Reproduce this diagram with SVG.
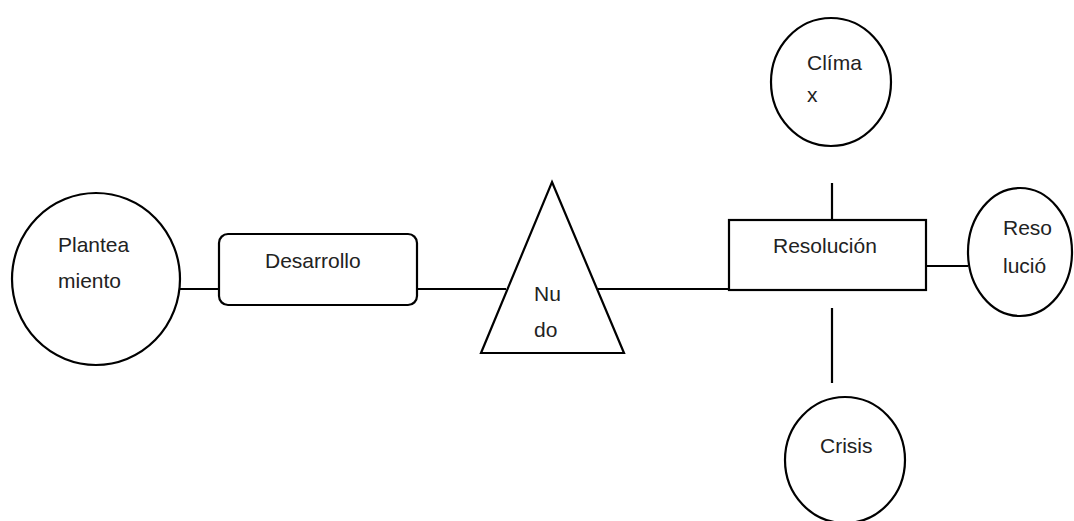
<svg xmlns="http://www.w3.org/2000/svg" width="1074" height="521" viewBox="0 0 1074 521">
<style>
.s{fill:#fff;stroke:#000;stroke-width:2.2}
.c line{stroke:#000;stroke-width:2.2}
text{font-family:"Liberation Sans",Arial,sans-serif;font-size:21px;fill:#222}
</style>
<rect width="1074" height="521" fill="#fff"/>
<g class="c" id="connectors">
<line x1="180" y1="289" x2="220" y2="289"/>
<line x1="417" y1="289" x2="506" y2="289"/>
<line x1="598" y1="289" x2="729" y2="289"/>
<line x1="832" y1="183" x2="832" y2="220"/>
<line x1="926" y1="266" x2="968" y2="266"/>
<line x1="832" y1="308" x2="832" y2="383"/>
</g>
<g id="planteamiento">
<ellipse class="s" cx="96" cy="279" rx="84" ry="86"/>
<text x="58" y="252">Plantea</text>
<text x="58" y="288">miento</text>
</g>
<g id="desarrollo">
<rect class="s" x="219" y="234" width="198" height="71" rx="9"/>
<text x="265" y="268">Desarrollo</text>
</g>
<g id="nudo">
<polygon class="s" points="552,182 624,353 481,353"/>
<text x="534" y="301">Nu</text>
<text x="534" y="337">do</text>
</g>
<g id="resolucion">
<rect class="s" x="729" y="220" width="197" height="70"/>
<text x="773" y="253">Resolución</text>
</g>
<g id="clima">
<ellipse class="s" cx="831" cy="82" rx="60" ry="64"/>
<text x="807" y="70">Clíma</text>
<text x="807" y="102">x</text>
</g>
<g id="reso">
<ellipse class="s" cx="1020" cy="252" rx="52" ry="64"/>
<text x="1003" y="235">Reso</text>
<text x="1003" y="273">lució</text>
</g>
<g id="crisis">
<ellipse class="s" cx="845" cy="460" rx="60" ry="63"/>
<text x="820" y="453">Crisis</text>
</g>
</svg>
